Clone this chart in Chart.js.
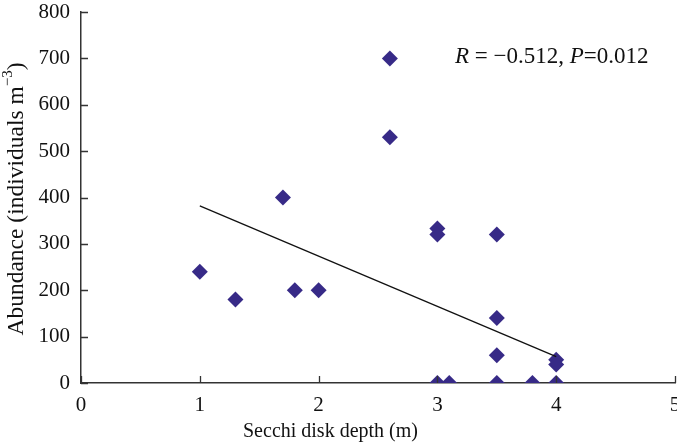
<!DOCTYPE html>
<html>
<head>
<meta charset="utf-8">
<script src="https://cdn.jsdelivr.net/npm/chart.js@4.4.0/dist/chart.umd.min.js"></script>
<style>
  html, body { margin: 0; padding: 0; background: #fff; overflow: hidden; }
  #wrap { width: 677px; height: 448px; }
</style>
</head>
<body>
<div id="wrap"><canvas id="chart" width="677" height="448"></canvas></div>
<script>
// Secchi disk depth (m) vs abundance (individuals m^-3)
const depth     = [1, 1.3, 1.7, 1.8, 2, 2.6, 2.6, 3, 3, 3, 3.1, 3.5, 3.5, 3.5, 3.5, 3.8, 4, 4, 4];
const abundance = [240, 180, 400, 200, 200, 700, 530, 333, 320, 0, 0, 320, 140, 60, 0, 0, 50, 40, 0];

// fitted regression line, end points
const trendX = [1, 4];
const trendY = [382, 57];

const serif = '"Liberation Serif", "Times New Roman", serif';
const axisColor = '#333';
const textColor = '#111';

const points = depth.map((d, i) => ({ x: d, y: abundance[i] }));
const trend = trendX.map((d, i) => ({ x: d, y: trendY[i] }));

// small inward ticks, like the original figure
const innerTicks = {
  id: 'innerTicks',
  afterDraw(chart) {
    const { ctx, scales: { x, y } } = chart;
    ctx.save();
    ctx.strokeStyle = axisColor;
    ctx.lineWidth = 1.3;
    ctx.beginPath();
    y.ticks.forEach(t => {
      const py = Math.round(y.getPixelForValue(t.value)) + 0.5;
      ctx.moveTo(x.left, py);
      ctx.lineTo(x.left + 7, py);
    });
    x.ticks.forEach(t => {
      const px = Math.round(x.getPixelForValue(t.value)) + 0.5;
      ctx.moveTo(px, y.bottom);
      ctx.lineTo(px, y.bottom - 7);
    });
    ctx.stroke();
    ctx.restore();
  }
};

// draws a run of [text, italic, superscript] pieces
function drawRun(ctx, parts, x, y, size) {
  let px = x;
  parts.forEach(([txt, it, sup]) => {
    const fs = sup ? Math.round(size * 0.62) : size;
    ctx.font = (it ? 'italic ' : '') + fs + 'px ' + serif;
    ctx.fillText(txt, px, sup ? y - size * 0.38 : y);
    px += ctx.measureText(txt).width;
  });
  return px - x;
}

function runWidth(ctx, parts, size) {
  let w = 0;
  parts.forEach(([txt, it, sup]) => {
    const fs = sup ? Math.round(size * 0.62) : size;
    ctx.font = (it ? 'italic ' : '') + fs + 'px ' + serif;
    w += ctx.measureText(txt).width;
  });
  return w;
}

// stats text and axis titles
const labels = {
  id: 'labels',
  afterDraw(chart) {
    const ctx = chart.ctx;
    ctx.save();
    ctx.fillStyle = textColor;
    ctx.textBaseline = 'middle';
    ctx.textAlign = 'left';

    drawRun(ctx, [['R', true], [' = \u22120.512, ', false], ['P', true], ['=0.012', false]], 455, 57, 23);

    ctx.font = '20px ' + serif;
    ctx.fillText('Secchi disk depth (m)', 243, 432);

    const yParts = [['Abundance (individuals m', false], ['\u22123', false, true], [')', false]];
    const w = runWidth(ctx, yParts, 23.5);
    ctx.translate(17, 199);
    ctx.rotate(-Math.PI / 2);
    drawRun(ctx, yParts, -w / 2, 0, 23.5);
    ctx.restore();
  }
};

new Chart(document.getElementById('chart'), {
  type: 'scatter',
  data: {
    datasets: [
      {
        label: 'trend',
        type: 'line',
        data: trend,
        borderColor: '#111',
        borderWidth: 1.3,
        pointRadius: 0,
        fill: false,
        order: 0
      },
      {
        label: 'abundance',
        data: points,
        pointStyle: 'rectRot',
        pointRadius: 8,
        backgroundColor: '#372a87',
        borderColor: '#372a87',
        borderWidth: 0,
        order: 1
      }
    ]
  },
  options: {
    responsive: false,
    animation: false,
    layout: { autoPadding: false, padding: { top: 12, right: 2, left: 0, bottom: 0 } },
    plugins: {
      legend: { display: false },
      tooltip: { enabled: false }
    },
    scales: {
      x: {
        type: 'linear',
        min: 0,
        max: 5,
        ticks: {
          stepSize: 1,
          color: textColor,
          padding: 10,
          font: { family: serif, size: 21 }
        },
        grid: { display: true, drawOnChartArea: false, drawTicks: false },
        border: { color: axisColor, width: 1.5 },
        afterFit(s) { s.height = 65; s.paddingRight = 2; s.paddingLeft = 0; }
      },
      y: {
        min: 0,
        max: 800,
        ticks: {
          stepSize: 100,
          color: textColor,
          padding: 11,
          font: { family: serif, size: 21 }
        },
        grid: { display: true, drawOnChartArea: false, drawTicks: false },
        border: { color: axisColor, width: 1.5 },
        afterFit(s) { s.width = 81; s.paddingTop = 0; s.paddingBottom = 0; }
      }
    }
  },
  plugins: [innerTicks, labels]
});
</script>
</body>
</html>
